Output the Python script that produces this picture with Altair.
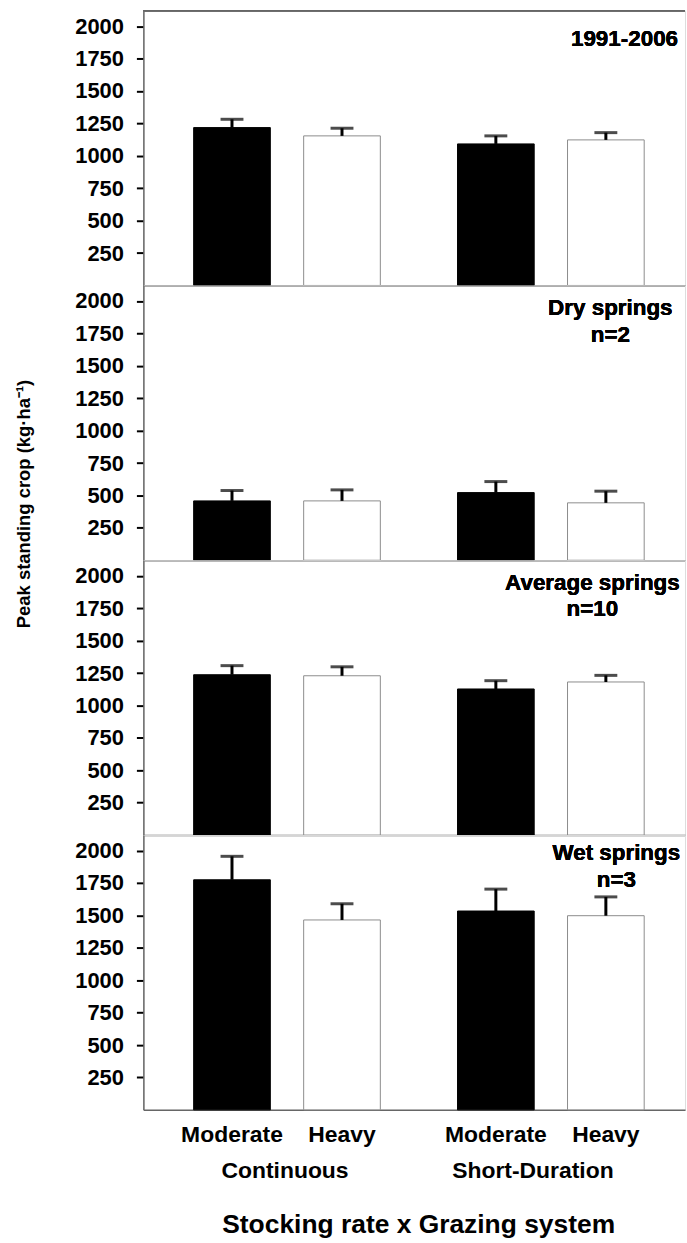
import altair as alt
import pandas as pd

# ---------------- data ----------------
groups = ["Continuous", "Continuous", "Short-Duration", "Short-Duration"]
rates = ["Moderate", "Heavy", "Moderate", "Heavy"]
group_order = ["Continuous", "Short-Duration"]
rate_order = ["Moderate", "Heavy"]
periods = ["1991-2006", "Dry springs", "Average springs", "Wet springs"]
notes = [["1991-2006"], ["Dry springs", "n=2"], ["Average springs", "n=10"], ["Wet springs", "n=3"]]
means = [
    [1218, 1154, 1092, 1123],
    [458, 458, 522, 443],
    [1237, 1229, 1127, 1181],
    [1775, 1465, 1534, 1498],
]
errors = [
    [64, 59, 62, 56],
    [80, 85, 85, 90],
    [70, 69, 64, 51],
    [181, 125, 169, 145],
]
y_ticks = [250, 500, 750, 1000, 1250, 1500, 1750, 2000]
y_title = "Peak standing crop (kg\u00b7ha\u207b\u00b9)"
x_title = "Stocking rate x Grazing system"

# ---------------- layout / style ----------------
W, H = 544, 276
FONT = "Liberation Sans"
GRAY = "#666666"
note_style = [
    dict(x=537, y=35, align="right", lh=27),
    dict(x=469, y=30, align="center", lh=27),
    dict(x=451, y=30, align="center", lh=26),
    dict(x=475, y=25, align="center", lh=27),
]

xscale = alt.Scale(domain=group_order, paddingInner=0.2925, paddingOuter=0.1726, align=0.552)
xoscale = alt.Scale(domain=rate_order, paddingInner=0.303, paddingOuter=0)
yscale = alt.Scale(domain=[0, 2120], nice=False, zero=True)


def panel(i):
    df = pd.DataFrame({
        "group": groups,
        "rate": rates,
        "mean": means[i],
        "upper": [m + e for m, e in zip(means[i], errors[i])],
        "period": periods[i],
    })
    base = alt.Chart(df)

    if i == 3:
        x_axis = alt.Axis(labels=False, ticks=False, domain=True, domainColor=GRAY, domainWidth=1.5,
                          title=x_title, titleX=276, titleY=123, titleAlign="center",
                          titleBaseline="alphabetic", titleFontSize=26.5, titleFont=FONT,
                          titleFontWeight="bold", titleColor="black")
    else:
        x_axis = alt.Axis(labels=False, ticks=False, domain=True, domainColor=GRAY, domainWidth=1.5, title=None)

    ykw = dict(values=y_ticks, format="d", tickSize=7, tickColor="black", tickWidth=2, labelFontSize=22,
               labelFontWeight="bold", labelFont=FONT, labelColor="black", labelPadding=13,
               domainColor=GRAY, domainWidth=1.5, grid=False)
    if i == 1:
        y_axis = alt.Axis(title=y_title, titleX=-120, titleY=219, titleAngle=270, titleAlign="center",
                          titleBaseline="middle", titleFontSize=18.5, titleFont=FONT,
                          titleFontWeight="bold", titleColor="black", **ykw)
    else:
        y_axis = alt.Axis(title=None, **ykw)

    x = alt.X("group:N", scale=xscale, axis=x_axis, sort=group_order)
    xo = alt.XOffset("rate:N", scale=xoscale, sort=rate_order)

    bars = base.mark_bar(strokeWidth=1).encode(
        x=x, xOffset=xo,
        y=alt.Y("mean:Q", scale=yscale, axis=y_axis),
        fill=alt.Fill("rate:N", scale=alt.Scale(domain=rate_order, range=["#000000", "#ffffff"]), legend=None),
        stroke=alt.Stroke("rate:N", scale=alt.Scale(domain=rate_order, range=["#000000", "#8c8c8c"]), legend=None),
    )
    stems = base.mark_rule(color="black", strokeWidth=3).encode(
        x=x, xOffset=xo,
        y=alt.Y("mean:Q", scale=yscale, axis=y_axis),
        y2="upper:Q",
    )
    caps = base.mark_tick(color="black", thickness=3, size=23).encode(
        x=x, xOffset=xo,
        y=alt.Y("upper:Q", scale=yscale, axis=y_axis),
    )
    s = note_style[i]
    note = base.mark_text(text=notes[i], font=FONT, fontSize=22.5, fontWeight="bold", color="black",
                          align=s["align"], baseline="alphabetic", lineHeight=s["lh"]).encode(
        x=alt.value(s["x"]), y=alt.value(s["y"])
    )
    layers = [bars, stems, caps, note]

    if i == 0:
        top = base.mark_rule(color=GRAY, strokeWidth=1.5).encode(
            x=alt.value(0), x2=alt.value(W), y=alt.value(0))
        layers.append(top)

    if i == 3:
        rate_lbl = base.mark_text(font=FONT, fontSize=23, fontWeight="bold", color="black",
                                  baseline="alphabetic").encode(
            x=x, xOffset=xo, y=alt.value(H + 32.5), text="rate:N")
        gdf = pd.DataFrame({"group": group_order})
        g1 = alt.Chart(gdf).transform_filter(alt.datum.group == "Continuous").mark_text(
            font=FONT, fontSize=23, fontWeight="bold", color="black", baseline="alphabetic", dx=-2
        ).encode(x=x, y=alt.value(H + 68.5), text="group:N")
        g2 = alt.Chart(gdf).transform_filter(alt.datum.group == "Short-Duration").mark_text(
            font=FONT, fontSize=23, fontWeight="bold", color="black", baseline="alphabetic", dx=-18
        ).encode(x=x, y=alt.value(H + 68.5), text="group:N")
        layers += [rate_lbl, g1, g2]

    return alt.layer(*layers).properties(width=W, height=H)


chart = alt.vconcat(*[panel(i) for i in range(4)], spacing=0, bounds="flush").properties(
    padding={"left": 14, "top": 6, "right": 0, "bottom": 0}
).configure_view(stroke=None).configure(font=FONT)

chart.save("out.html", embed_options={"renderer": "svg", "actions": False})
